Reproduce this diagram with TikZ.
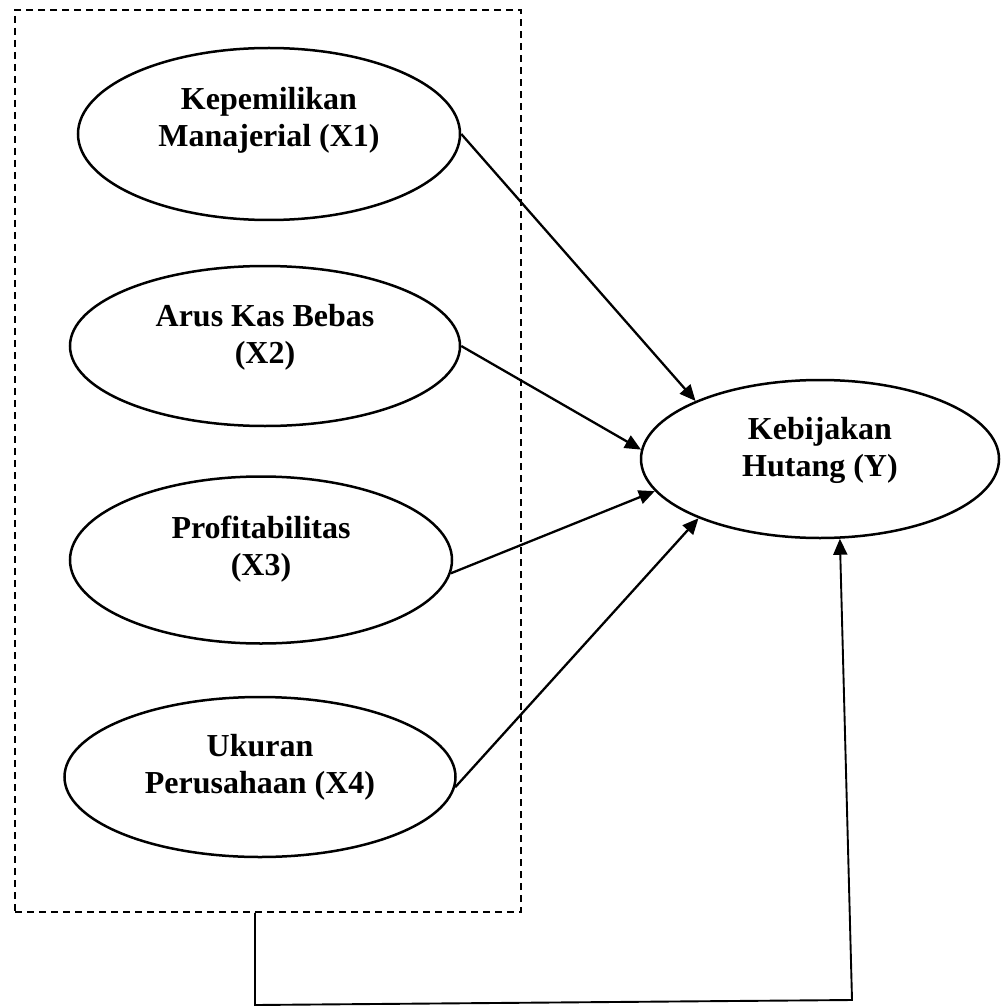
\documentclass[tikz,border=0pt]{standalone}
\usepackage{fontspec}
\setmainfont{Liberation Serif}
\usetikzlibrary{arrows.meta,shapes.geometric}
\begin{document}
\begin{tikzpicture}[x=1pt,y=-1pt,
  ell/.style={draw, ellipse, line width=2.5pt, inner sep=0pt},
  txt/.style={align=center, font=\bfseries\fontsize{32}{37}\selectfont, inner sep=0pt},
  conn/.style={line width=2.3pt, -{Triangle[length=16pt,width=14pt]}},
  group/.style={draw, line width=1.8pt, dash pattern=on 7pt off 5pt, inner sep=0pt}
]
\useasboundingbox (0,0) rectangle (1001,1008);

\node[group, minimum width=506pt, minimum height=902pt] (box) at (268,461) {};

\node[ell, minimum width=382pt, minimum height=172pt] (x1) at (269,134) {};
\node[ell, minimum width=390pt, minimum height=160pt] (x2) at (265,346) {};
\node[ell, minimum width=382pt, minimum height=167pt] (x3) at (261,560) {};
\node[ell, minimum width=391pt, minimum height=160pt] (x4) at (260,777) {};
\node[ell, minimum width=358pt, minimum height=158pt] (y) at (820,459) {};

\node[txt] (t1) at (269,120) {Kepemilikan\\Manajerial (X1)};
\node[txt] (t2) at (265,337) {Arus Kas Bebas\\(X2)};
\node[txt] (t3) at (261,549) {Profitabilitas\\(X3)};
\node[txt] (t4) at (260,767) {Ukuran\\Perusahaan (X4)};
\node[txt] (t5) at (820,450) {Kebijakan\\Hutang (Y)};

\draw[conn] (x1.east) -- (y.155);
\draw[conn] (x2.east) -- (y.177);
\draw[conn] (x3.-4) -- (y.191);
\draw[conn] (x4.-3) -- (y.206);

\coordinate (b1) at (255,1005);
\coordinate (b2) at (852,1000);
\draw[line width=1.9pt, -{Triangle[length=16pt,width=14pt]}]
  ([xshift=-13pt]box.south) -- (b1) -- (b2) -- (y.-76);
\end{tikzpicture}
\end{document}
